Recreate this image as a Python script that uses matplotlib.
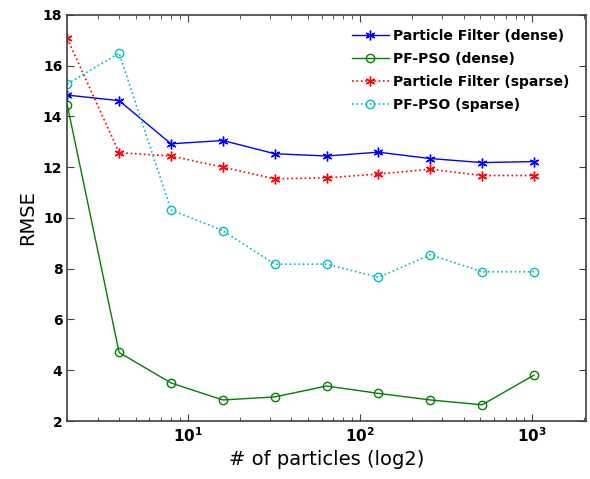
import matplotlib.pyplot as plt

# number of particles and RMSE per method
particles = [2, 4, 8, 16, 32, 64, 128, 256, 512, 1024]
pf_dense = [14.84, 14.62, 12.92, 13.05, 12.53, 12.44, 12.59, 12.34, 12.18, 12.22]
pso_dense = [14.45, 4.70, 3.50, 2.83, 2.95, 3.38, 3.09, 2.83, 2.64, 3.81]
pf_sparse = [17.07, 12.57, 12.44, 12.00, 11.54, 11.58, 11.73, 11.92, 11.67, 11.67]
pso_sparse = [15.28, 16.49, 10.32, 9.50, 8.18, 8.18, 7.66, 8.55, 7.88, 7.88]

labels = ["Particle Filter (dense)", "PF-PSO (dense)",
          "Particle Filter (sparse)", "PF-PSO (sparse)"]

asterisk = (6, 2, 0)

fig = plt.figure(figsize=(5.9, 4.79), dpi=100)
ax = fig.add_axes([0.114, 0.121, 0.879, 0.848])

ax.plot(particles, pf_dense, "-", color="#0000ff", lw=1.0,
        marker=asterisk, ms=7, mew=1.0, label=labels[0])
ax.plot(particles, pso_dense, "-", color="#008000", lw=1.0,
        marker="o", ms=6, mfc="none", mew=1.0, label=labels[1])
ax.plot(particles, pf_sparse, ":", color="#ff0000", lw=1.2,
        marker=asterisk, ms=7, mew=1.0, label=labels[2])
ax.plot(particles, pso_sparse, ":", color="#00bfbf", lw=1.2,
        marker="o", ms=6, mfc="none", mew=1.0, label=labels[3])

ax.set_xscale("log")
ax.set_xlim(2, 2048)
ax.set_ylim(2, 18)
ax.set_yticks(range(2, 19, 2))
ax.set_yticklabels([str(v) for v in range(2, 19, 2)], fontweight="bold", fontsize=10)
ax.set_xticks([10, 100, 1000])
ax.set_xticklabels([r"$\mathbf{10^{1}}$", r"$\mathbf{10^{2}}$", r"$\mathbf{10^{3}}$"],
                   fontsize=11)

ax.tick_params(which="both", direction="in", top=True, right=True, colors="#404040",
               labelcolor="black")
ax.tick_params(which="major", length=5)
ax.tick_params(which="minor", length=3)
for s in ax.spines.values():
    s.set_color("#404040")
    s.set_linewidth(1.2)

ax.set_xlabel("# of particles (log2)", fontsize=14)
ax.set_ylabel("RMSE", fontsize=14)

ax.legend(loc="upper right", frameon=False, prop={"weight": "bold", "size": 10},
          handlelength=2.6, handletextpad=0.35, borderaxespad=0.2, labelspacing=0.65,
          bbox_to_anchor=(0.985, 0.985))

fig.savefig("out.png", dpi=100)
